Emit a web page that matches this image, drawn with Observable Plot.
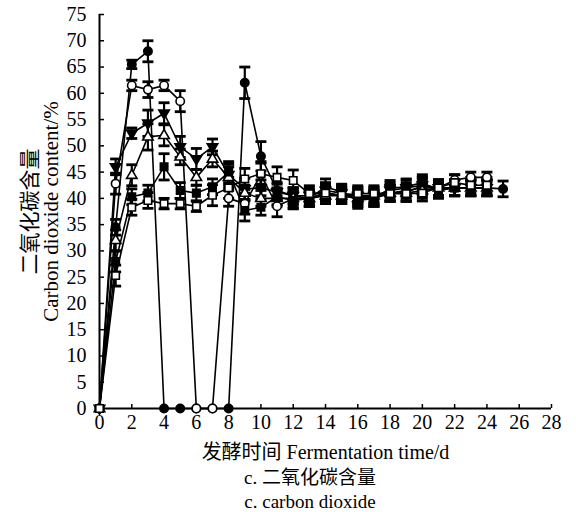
<!DOCTYPE html>
<html>
<head>
<meta charset="utf-8">
<script src="https://cdn.jsdelivr.net/npm/d3@7"></script>
<script src="https://cdn.jsdelivr.net/npm/@observablehq/plot@0.6"></script>
<style>
  body { margin: 0; background: #fff; }
  #chart { width: 576px; }
  .cap { width: 576px; font-family: "Liberation Serif", "Noto Sans CJK SC", serif; font-size: 19px; line-height: 24px; text-align: center; padding-left: 44px; box-sizing: border-box; color: #000; }
</style>
</head>
<body>
<div id="chart"></div>
<div class="cap">c. 二氧化碳含量</div>
<div class="cap">c. carbon dioxide</div>
<script>
// ---- data ----
const days = [0,1,2,3,4,5,6,7,8,9,10,11,12,13,14,15,16,17,18,19,20,21,22,23,24,25];
const xTicks = [0,2,4,6,8,10,12,14,16,18,20,22,24,26,28];
const yTicks = [0,5,10,15,20,25,30,35,40,45,50,55,60,65,70,75];

// A: filled circle
const seriesA = [0,34.5,65.5,68,0,0,0,0,0,62,48,41.5,40.5,40,41,40.5,40.5,40,41,41.5,42,42,42,42,42,41.8];
const errA    = [0,1.5,0.8,2,0,0,0,0,0,3,2.8,1.5,1.5,1.5,1.5,1,1.5,1.5,1.5,1.5,1.5,1.5,1.5,1.5,1.5,1.5];
// B: open circle
const seriesB = [0,42.8,61.5,60.7,61.5,58.5,0,0,40,39,44.5,38.5,40,40,41,40.5,40,40,41,41,42.5,42,43.5,44,44];
const errB    = [0,2,1,1.5,1,2,0,0,1.5,2,2.5,2,2,1.5,1.5,1.5,1.5,1.5,1.5,1.5,1.5,1.5,1,1,1];
// C: filled triangle down
const seriesC = [0,46,52.4,54.3,56.2,49.8,47.5,49.8,44.5,41.8,42,41.2,40.5,40.5,41.5,41,40.5,40.5,41.5,42,42.5,42,42,42,42];
const errC    = [0,1.5,1,2.5,2,2,2,1.5,2,2,1.5,1.5,1.5,1.5,1.5,1.5,1.5,1.5,1.5,1.5,1.5,1.5,1.5,1.5,1.5];
// D: open triangle up
const seriesD = [0,32,44.4,51.7,52,47.9,44,47.5,44,41,40,40,40,40,40.5,40.5,40,40.5,41,41,41.5,42,42,42,42];
const errD    = [0,2,2,2.5,2,1.5,1.5,1.5,2,1.5,1.5,1.5,1.5,1.5,1.5,1.5,1.5,1.5,1.5,1.5,1.5,1.5,1.5,1.5,1.5];
// E: filled square
const seriesE = [0,28,40.3,41,46,41.5,41,42.2,45,37.7,38.3,40.3,39.6,40,42.2,41.2,39.6,40,41.9,42.2,43,41.5,42,42,42];
const errE    = [0,2,1.5,1.5,2.5,1.5,1.5,1.5,2,2,1.5,1.5,1.5,1.5,1.5,1.5,1.5,1.5,1.5,1.5,1.5,1.5,1.5,1.5,1.5];
// F: open square
const seriesF = [0,25.3,38.3,39.6,39,39,38.5,40.6,42,43.7,44.7,44,43.4,40.9,41,40.6,40.9,40.9,40.9,40.9,41,42,43,42.5,42.5];
const errF    = [0,2,1.5,1.5,1,1,1,2,2,2,2,2,2,1.5,1.5,1.5,1.5,1.5,1.5,1.5,1.5,1.5,1.5,1.5,1.5];

const xLabel = "发酵时间 Fermentation time/d";
const yLabelCn = "二氧化碳含量";
const yLabelEn = "Carbon dioxide content/%";

// ---- symbols ----
const hline = { draw(ctx, size) { const r = Math.sqrt(size / Math.PI); ctx.moveTo(-r, 0); ctx.lineTo(r, 0); } };
const triDown = { draw(ctx, size) { const r = Math.sqrt(size / Math.PI) * 1.25; ctx.moveTo(-r, -r * 0.6); ctx.lineTo(r, -r * 0.6); ctx.lineTo(0, r * 1.1); ctx.closePath(); } };
const triUp = { draw(ctx, size) { const r = Math.sqrt(size / Math.PI) * 1.25; ctx.moveTo(-r, r * 0.6); ctx.lineTo(r, r * 0.6); ctx.lineTo(0, -r * 1.1); ctx.closePath(); } };

const seriesDefs = [
  {name: "A", values: seriesA, err: errA, symbol: "circle", fill: "black"},
  {name: "B", values: seriesB, err: errB, symbol: "circle", fill: "white"},
  {name: "C", values: seriesC, err: errC, symbol: triDown, fill: "black"},
  {name: "D", values: seriesD, err: errD, symbol: triUp, fill: "white"},
  {name: "E", values: seriesE, err: errE, symbol: "square", fill: "black"},
  {name: "F", values: seriesF, err: errF, symbol: "square", fill: "white"}
];

const rows = [];
for (const s of seriesDefs) {
  s.values.forEach((v, i) => rows.push({series: s.name, day: days[i], value: v, err: s.err[i]}));
}
const withErr = rows.filter(d => d.err > 0);

const font = "Liberation Serif, Noto Sans CJK SC, serif";

const marks = [
  Plot.ruleX([0], {stroke: "black", strokeWidth: 2}),
  Plot.ruleY([0], {stroke: "black", strokeWidth: 2}),
  Plot.axisX({ticks: xTicks, tickSize: -4, tickPadding: 10, label: null, fontSize: 20, fontFamily: font, strokeWidth: 1.5}),
  Plot.axisY({ticks: yTicks, tickSize: -5, tickPadding: 18, label: null, fontSize: 20, fontFamily: font, strokeWidth: 1.5}),
  Plot.line(rows, {x: "day", y: "value", z: "series", stroke: "black", strokeWidth: 1.6}),
  Plot.ruleX(withErr, {x: "day", y1: d => d.value - d.err, y2: d => d.value + d.err, stroke: "black", strokeWidth: 2.2}),
  Plot.dot(withErr, {x: "day", y: d => d.value + d.err, symbol: hline, r: 5.5, stroke: "black", strokeWidth: 2.8, fill: "none"}),
  Plot.dot(withErr, {x: "day", y: d => d.value - d.err, symbol: hline, r: 5.5, stroke: "black", strokeWidth: 2.8, fill: "none"})
];
for (const s of seriesDefs) {
  marks.push(Plot.dot(rows.filter(d => d.series === s.name), {
    x: "day", y: "value", symbol: s.symbol, r: 4.2, fill: s.fill, stroke: "black", strokeWidth: 1.6
  }));
}
marks.push(
  Plot.text([yLabelCn], {frameAnchor: "left", textAnchor: "middle", dx: -69, rotate: -90, text: d => d, fontSize: 21, fontFamily: font, fill: "black"}),
  Plot.text([yLabelEn], {frameAnchor: "left", textAnchor: "middle", dx: -48, rotate: -90, text: d => d, fontSize: 21, fontFamily: font, fill: "black"}),
  Plot.text([xLabel], {frameAnchor: "bottom", dy: 50, text: d => d, fontSize: 20, fontFamily: font, fill: "black"})
);

const chart = Plot.plot({
  width: 576,
  height: 466,
  marginLeft: 99,
  marginRight: 25,
  marginTop: 14,
  marginBottom: 58,
  style: {fontFamily: font, fontSize: "19px", color: "black", background: "white"},
  x: {domain: [0, 28]},
  y: {domain: [0, 75]},
  marks
});
d3.select(chart).selectAll("text").style("font-family", font);
document.getElementById("chart").appendChild(chart);
</script>
</body>
</html>
